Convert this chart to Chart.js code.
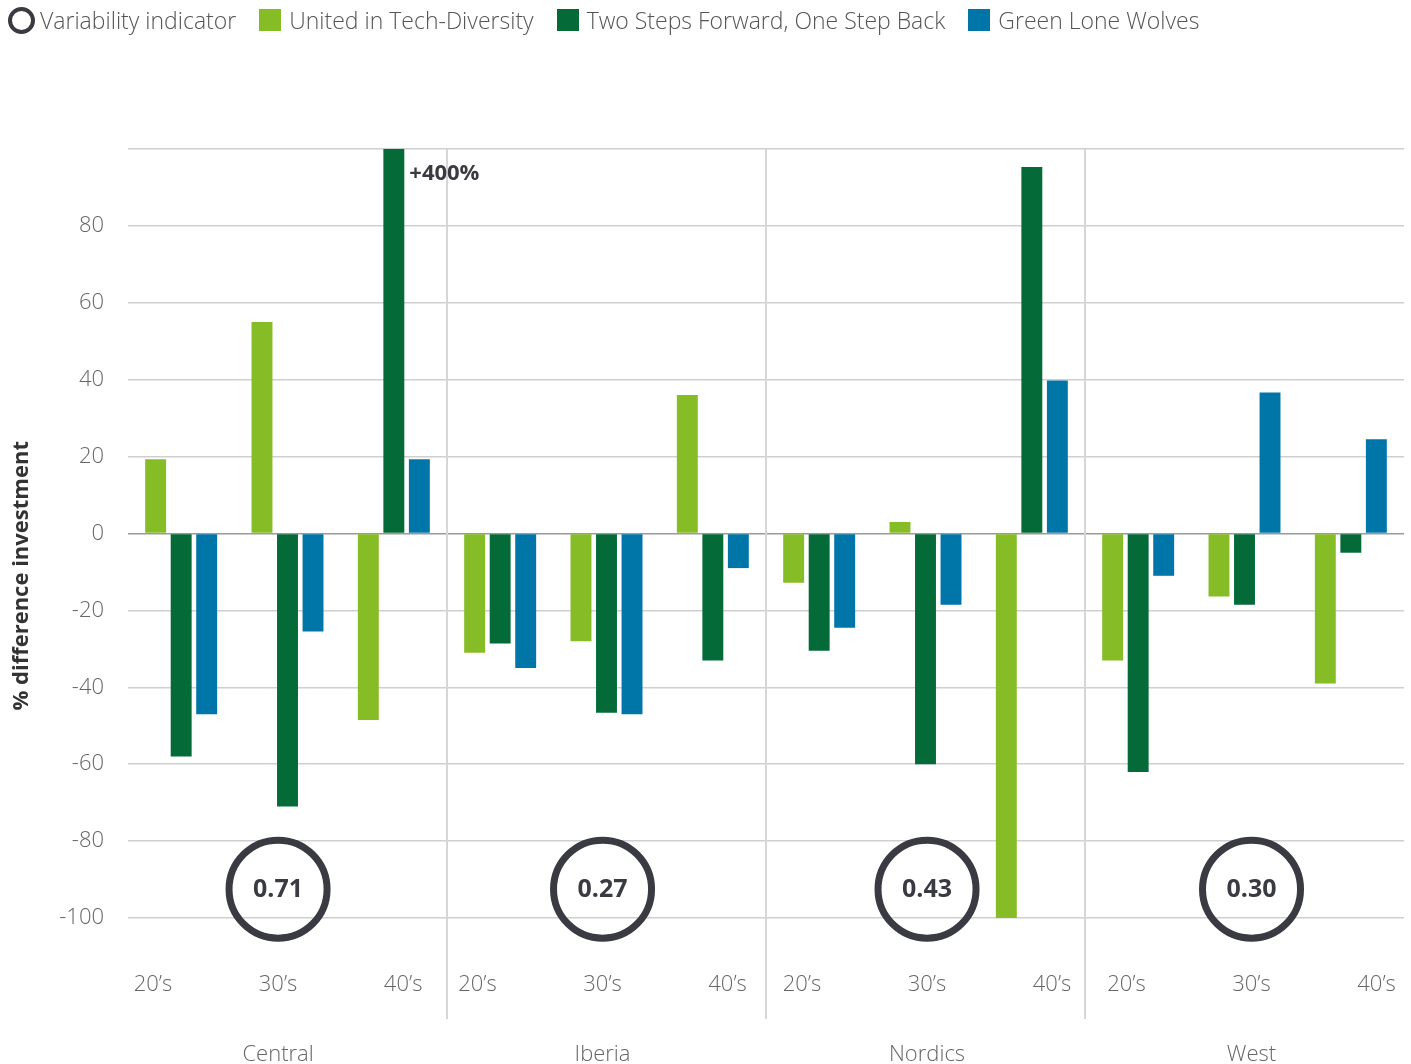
<!DOCTYPE html>
<html>
<head>
<meta charset="utf-8">
<script src="https://cdn.jsdelivr.net/npm/chart.js@4.4.0/dist/chart.umd.min.js"></script>
<style>
  html, body { margin: 0; padding: 0; background: #fff; }
  #wrap { position: relative; width: 1411px; height: 1064px; }
  #legend { position: absolute; left: 8px; top: 4px; display: flex; align-items: center;
            font-family: 'Open Sans', sans-serif; font-weight: 300; font-size: 23px; color: #555; white-space: nowrap; }
  #legend .item { display: flex; align-items: center; margin-right: 23px; }
  #legend .box { width: 22px; height: 22px; margin-right: 8px; }
  #legend .ring { width: 19px; height: 19px; border: 4.5px solid #3a3a42; border-radius: 50%; margin-right: 5px; }
</style>
</head>
<body>
<div id="wrap">
  <canvas id="chart" width="1411" height="1064"></canvas>
  <div id="legend"></div>
</div>
<script>
// ─── Data ─────────────────────────────────────────────────────────────────────

const regions = ['Central', 'Iberia', 'Nordics', 'West'];
const ageGroups = ['20’s', '30’s', '40’s'];
const variability = ['0.71', '0.27', '0.43', '0.30'];

const seriesNames = ['United in Tech-Diversity', 'Two Steps Forward, One Step Back', 'Green Lone Wolves'];
const seriesColors = ['#86bc25', '#046a38', '#0076a8'];

// order: Central 20/30/40, Iberia 20/30/40, Nordics 20/30/40, West 20/30/40
const unitedTech   = [19.3, 55, -48.5,  -31, -28, 36,   -12.8, 3, -100,   -33, -16.4, -39];
const twoSteps     = [-58, -71, 400,    -28.6, -46.6, -33,  -30.5, -60, 95.3,   -62, -18.5, -5];
const loneWolves   = [-47, -25.5, 19.3, -35, -47, -9,   -24.5, -18.5, 39.8,   -11, 36.7, 24.5];

const yTicks = [80, 60, 40, 20, 0, -20, -40, -60, -80, -100];
const overflowNote = '+400%';
const yTitle = '% difference investment';

// ─── Legend ───────────────────────────────────────────────────────────────────

const legendEl = document.getElementById('legend');
legendEl.innerHTML = `<div class="item"><span class="ring"></span>Variability indicator</div>` +
  seriesNames.map((n, i) => `<div class="item"><span class="box" style="background:${seriesColors[i]}"></span>${n}</div>`).join('');

// ─── Chart ────────────────────────────────────────────────────────────────────

const labels = [];
regions.forEach(r => ageGroups.forEach(a => labels.push(r + ' ' + a)));

const FONT = "'Open Sans', sans-serif";
const GREY = '#666';
const DARK = '#3a3a42';

const overlay = {
  id: 'overlay',
  beforeDatasetsDraw(chart) {
    const { ctx, chartArea, scales: { x } } = chart;
    ctx.save();
    ctx.strokeStyle = '#d6d6d6';
    ctx.lineWidth = 2;
    for (let r = 1; r < regions.length; r++) {
      const xp = Math.round((x.getPixelForValue(r * 3 - 1) + x.getPixelForValue(r * 3)) / 2);
      ctx.beginPath();
      ctx.moveTo(xp, chartArea.top);
      ctx.lineTo(xp, chartArea.bottom + 101);
      ctx.stroke();
    }
    ctx.restore();
  },
  afterDatasetsDraw(chart) {
    const { ctx, chartArea, scales: { x, y } } = chart;
    const w = chartArea.right - chartArea.left;
    ctx.save();
    ctx.textAlign = 'center';
    ctx.textBaseline = 'middle';
    regions.forEach((r, ri) => {
      // label grid under the plot is slightly wider than the bar grid
      const cx = chartArea.left + w * (0.1176 + 0.2543 * ri);
      ctx.font = `300 22px ${FONT}`;
      ctx.fillStyle = GREY;
      ageGroups.forEach((a, ai) => {
        ctx.fillText(a, cx + (ai - 1) * w * 0.098, chartArea.bottom + 67);
      });
      ctx.fillText(r, cx, chartArea.bottom + 137);
      // variability ring
      const cy = y.getPixelForValue(-92.5);
      ctx.beginPath();
      ctx.arc(cx, cy, 49, 0, Math.PI * 2);
      ctx.strokeStyle = DARK;
      ctx.lineWidth = 7;
      ctx.stroke();
      ctx.font = `bold 25px ${FONT}`;
      ctx.fillStyle = DARK;
      ctx.fillText(variability[ri], cx, cy + 1);
    });
    // overflow note next to clipped bar
    const bar = chart.getDatasetMeta(1).data[2];
    ctx.font = `bold 22px ${FONT}`;
    ctx.fillStyle = DARK;
    ctx.textAlign = 'left';
    ctx.fillText(overflowNote, bar.x + bar.width / 2 + 5, chartArea.top + 25);
    // y axis title
    ctx.translate(22, y.getPixelForValue(-11));
    ctx.rotate(-Math.PI / 2);
    ctx.textAlign = 'center';
    ctx.font = `bold 22px ${FONT}`;
    ctx.fillStyle = '#333';
    ctx.fillText(yTitle, 0, 0);
    ctx.restore();
  }
};

new Chart(document.getElementById('chart'), {
  type: 'bar',
  data: {
    labels,
    datasets: [unitedTech, twoSteps, loneWolves].map((d, i) => ({
      label: seriesNames[i],
      data: d,
      backgroundColor: seriesColors[i],
      categoryPercentage: 0.72,
      barPercentage: 0.82,
    })),
  },
  options: {
    responsive: false,
    animation: false,
    devicePixelRatio: 1,
    layout: { padding: { top: 149, bottom: 146, right: 7, left: 0 } },
    plugins: { legend: { display: false }, tooltip: { enabled: false } },
    scales: {
      x: { display: false },
      y: {
        min: -100, max: 100,
        afterFit(scale) { scale.width = 128; },
        afterBuildTicks(scale) {
          scale.ticks = [100, ...yTicks].map(v => ({ value: v }));
        },
        ticks: {
          padding: 24,
          color: GREY,
          font: { family: FONT, size: 22, weight: 300 },
          callback: v => (yTicks.includes(v) ? v : ''),
        },
        grid: {
          drawTicks: false,
          lineWidth: 1.5,
          color: ctx => (ctx.tick && ctx.tick.value === 0 ? '#9a9a9a' : '#cfcfcf'),
        },
        border: { display: false },
      },
    },
  },
  plugins: [overlay],
});
</script>
</body>
</html>
